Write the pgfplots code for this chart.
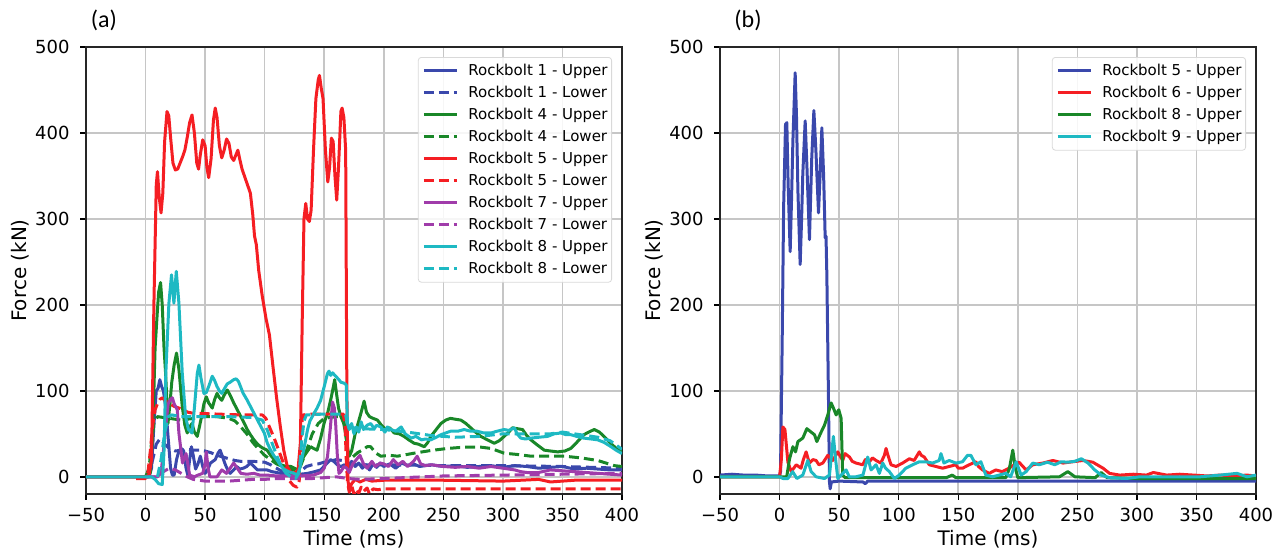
\documentclass[border=0pt]{standalone}
\usepackage{pgfplots}
\pgfplotsset{compat=1.18}
\usepackage{fontspec}
\setmainfont{DejaVu Sans}
\newfontfamily\calib{Carlito}
\definecolor{cBlue}{RGB}{58,72,172}
\definecolor{cRed}{RGB}{245,30,35}
\definecolor{cGreen}{RGB}{25,135,40}
\definecolor{cPurple}{RGB}{160,60,170}
\definecolor{cCyan}{RGB}{30,185,195}
\pgfplotsset{
  myax/.style={
    scale only axis, width=268pt, height=223.5pt,
    xmin=-50, xmax=400, ymin=-20, ymax=500,
    xtick={-50,0,50,100,150,200,250,300,350,400},
    xticklabels={−50,0,50,100,150,200,250,300,350,400},
    ytick={0,100,200,300,400,500},
    yticklabels={0,100,200,300,400,500},
    tick align=outside, major tick length=3pt,
    tick style={black, line width=0.7pt},
    xtick pos=bottom, ytick pos=left,
    axis line style={black!85, line width=0.8pt},
    grid=major, major grid style={gray!45, line width=0.8pt},
    tick label style={font=\fontsize{9}{10}\selectfont},
    xticklabel style={anchor=center, yshift=-7.5pt},
    yticklabel style={anchor=east, inner sep=0pt, xshift=-5pt},
    xlabel={Time (ms)}, ylabel={Force (kN)},
    label style={font=\fontsize{9}{10}\selectfont},
    every axis x label/.style={at={(axis description cs:0.5,0)}, anchor=center, yshift=-22.5pt},
    every axis y label/.style={at={(axis description cs:0,0.5)}, anchor=center, rotate=90, yshift=33pt},
    legend cell align=left,
    legend style={at={(1,1)}, anchor=north east, xshift=-5pt, yshift=-5pt,
      font=\fontsize{7.5}{9}\selectfont, draw=gray!30, rounded corners=1.5pt,
      fill=white, fill opacity=0.85, text opacity=1,
      nodes={inner sep=0pt, text height=5.8pt, text depth=1.6pt},
      row sep=3.6pt, column sep=5pt, inner xsep=2pt, inner ysep=3pt},
    legend image code/.code={\draw[#1] (0pt,0pt) -- (16.5pt,0pt);},
    every axis plot/.append style={line width=1.5pt, line join=round},
  },
  dsh/.style={dash pattern=on 5pt off 2.5pt},
}
\begin{document}
\begin{tikzpicture}
\useasboundingbox (0,0) rectangle (642pt,275.5pt);
\node[font=\calib\fontsize{12}{14}\selectfont] at (52pt,265.5pt) {(a)};
\node[font=\calib\fontsize{12}{14}\selectfont] at (374pt,265.5pt) {(b)};
% ---------------- panel (a)
\begin{axis}[myax, at={(43pt,28.5pt)}, anchor=south west]
% Rockbolt 1 Upper
\addplot[cBlue] coordinates {(-50,0) (3,0) (5,10) (7,60) (9,100) (10.5,103) (12,113) (13.5,105) (15,100) (17,80) (19,45) (21,10) (22.5,2) (24,2) (26,20) (28,30) (30,33) (32,30) (34,10) (35.5,2) (37,20) (38.5,35) (40,25) (42,9) (44,15) (46,24) (48,12) (50,4) (52,8) (54.5,16) (58.5,20) (61,28) (62.6,31) (65,22) (67,14) (69,8) (71,4) (74,8) (76.6,12) (79,9) (82,10) (85,12) (88,16) (91,12) (94,8) (98,8) (102,8) (106,6) (110,5) (113.6,4) (120,4) (124.6,4) (130,3) (136,4) (142,6) (147,8) (151,14) (155.4,20) (158,18) (161,14) (164,12) (167,14) (170,10) (173,18) (176,12) (179,16) (182,10) (185,14) (188,8) (191,15) (194,11) (197,16) (200,12) (205,15) (210,10) (215,16) (220,13) (225,15) (230,12) (240,14) (250,12) (260,13) (270,11) (280,12) (290,13) (300,11) (310,13) (320,12) (330,10) (340,11) (350,12) (360,9) (370,10) (380,9) (390,8) (400,8)};
\addlegendentry{Rockbolt 1 - Upper}
% Rockbolt 1 Lower
\addplot[cBlue, dsh] coordinates {(0,0) (3,5) (6,20) (9,38) (12,44) (14,42) (16,38) (20,33) (25,30) (30,31) (35,32) (40,31) (45,31) (50,30) (55,28) (60,25) (65,23) (70,21) (75,19) (80,18) (90,18) (100,17) (105,14) (110,10) (115,6) (120,5) (125,4) (130,6) (135,12) (140,14) (145,15) (150,17) (155,18) (160,20) (165,19) (170,16) (180,14) (200,14) (250,13) (300,13) (350,12) (400,10)};
\addlegendentry{Rockbolt 1 - Lower}
% Rockbolt 4 Upper
\addplot[cGreen] coordinates {(-50,0) (2,0) (4,5) (6,50) (8,150) (9.8,190) (11,215) (12.6,226) (14,200) (15.5,150) (16.8,121) (18.8,62) (20.5,85) (22,110) (24,130) (26,144) (28,125) (30.8,82) (33,60) (35,51) (37,58) (39,62) (41,52) (43.4,47) (45.5,60) (47.6,74) (49,85) (51,93) (53,86) (56,80) (58,90) (60,97) (62,92) (64,89) (66,95) (68.6,101) (71,95) (74,86) (77,78) (80,70) (83,62) (85.4,55) (88,49) (91,43) (94,38) (96.6,35) (99,33) (102,31) (105,25) (108,20) (111,17) (113.6,14) (118,12) (122,12) (125,10) (127.5,8) (130,15) (133,24) (136,30) (138.6,35) (141,33) (144,31) (147,45) (150,63) (153,75) (155.5,90) (157,100) (158.8,113) (160.5,95) (162,80) (164,70) (166.4,62) (168,50) (170,30) (171,24) (173,30) (176,50) (179,65) (181,75) (183.5,88) (185.5,75) (188,70) (191,68) (194.7,66) (198,60) (201.7,55) (205,57) (208.7,51) (213,50) (217,47) (221,43) (225.5,39) (229,38) (234,35) (237,40) (239.5,47) (244,55) (248,62) (252,66) (256,68) (260,67) (264.7,66) (269,62) (273,57) (277,52) (281.5,47) (287,43) (292.7,39) (297,42) (301,47) (305,52) (308,57) (312,56) (316.5,55) (320,48) (323.5,43) (328,38) (334.7,31) (340,30) (346,29) (352,30) (357,33) (362,40) (368,49) (372,52) (376.7,55) (381,52) (384.9,47) (389,41) (393.6,35) (397,31) (400,29)};
\addlegendentry{Rockbolt 4 - Upper}
% Rockbolt 4 Lower
\addplot[cGreen, dsh] coordinates {(0,0) (3,10) (5,40) (7,62) (10,70) (20,68) (30,66) (40,68) (50,70) (60,70) (70,68) (75,65) (80,58) (85,50) (90,40) (95,32) (100,25) (105,20) (110,15) (115,12) (120,9) (125,8) (130,12) (135,30) (140,50) (145,62) (150,68) (160,70) (166,70) (168,50) (170,28) (173,22) (178,28) (183,32) (186,35) (189,35) (193,28) (197.5,24) (205,25) (211.5,24) (225.5,27.5) (239.5,30.6) (253.5,33) (267.5,34.5) (281.5,34.5) (290,33) (301,27.5) (312,26) (323.5,24) (337.5,24) (351.5,24) (365.5,22) (379.6,19) (393.5,13) (400,12)};
\addlegendentry{Rockbolt 4 - Lower}
% Rockbolt 5 Upper
\addplot[cRed] coordinates {(-50,0) (0,0) (3,2) (5,20) (7,200) (9,340) (10,355) (11.5,325) (13,307) (14.5,330) (16,390) (18,425) (19.5,420) (21,395) (23,365) (25,357) (27,358) (29,365) (31,372) (33,380) (35,395) (37,412) (39,421) (41,400) (43,365) (44.5,358) (46,375) (48,392) (50,385) (51.5,360) (53,348) (55,370) (57,415) (58.5,429) (60,418) (62,385) (64,371) (66,380) (68,393) (70,388) (72,372) (74,368) (76,375) (77.5,380) (79,370) (81,358) (83,350) (86,338) (88,330) (90,305) (91.5,280) (93,270) (95,240) (98,210) (101,185) (104,165) (107,128) (110,92) (113,60) (116,31) (119,12) (122,5) (125,4) (128,8) (130,40) (131.5,180) (133,300) (134.5,318) (136,300) (137.5,297) (139,310) (141,380) (143,440) (145,462) (146,467) (147.5,452) (149,440) (151,380) (153,343) (154.5,360) (156,394) (157.5,390) (159,350) (160.5,322) (162,360) (164,425) (165,429) (166.5,418) (168,380) (169,100) (170,-5) (171,-15) (173,-8) (176,-3) (180,-6) (185,-3) (190,-5) (200,-4) (250,-4) (300,-5) (330,-3) (340,-6) (360,-4) (400,-4)};
\addlegendentry{Rockbolt 5 - Upper}
% Rockbolt 5 Lower
\addplot[cRed, dsh] coordinates {(-8,-2) (0,-2) (2,5) (4,30) (6,60) (8,78) (10,85) (12,90) (14,92) (17,88) (20,85) (24,82) (28,80) (32,77) (36,75) (40,74) (60,73) (80,72) (98,72) (101,68) (104,58) (108,45) (112,30) (116,15) (119,3) (121,-5) (124,-10) (127,-12) (129,-5) (130,20) (131,60) (132,72) (140,73) (150,73) (160,73) (166,73) (167.5,60) (168.5,20) (169.5,-5) (171,-18) (173,-10) (175,-20) (177,-14) (179,-19) (181,-12) (183,-17) (186,-13) (188,-20) (191,-14) (195,-15) (200,-14) (400,-14)};
\addlegendentry{Rockbolt 5 - Lower}
% Rockbolt 7 Upper
\addplot[cPurple] coordinates {(0,0) (10,0) (13,5) (15,30) (17,60) (19,85) (21,90) (22.5,92) (24,85) (26.6,78) (28,51) (31,16) (34,27) (37,2) (41,0) (44,2) (48,4) (50,15) (51,29) (52.5,10) (54,0) (60,0) (64,8) (68,4) (71,10) (74,16) (77,10) (80,4) (85,3) (91,4) (96,2) (102,2) (110,1) (120,1) (130,1) (141,2) (147,5) (150,10) (152.7,23) (155,55) (157,87) (158.5,80) (159.6,62) (161,25) (162.4,4) (164,6) (166.6,12) (169,10) (171,5) (174,15) (177,20) (180,25) (183,15) (186,10) (190,18) (193,12) (197,16) (200,15) (204,12) (208,20) (212,14) (216,18) (220,12) (225,18) (228,24) (231,15) (235,13) (240,14) (250,12) (260,11) (270,12) (280,10) (290,12) (300,10) (310,8) (315,6) (320,5) (330,5) (340,8) (350,7) (360,6) (370,5) (380,4) (390,3) (400,2)};
\addlegendentry{Rockbolt 7 - Upper}
% Rockbolt 7 Lower
\addplot[cPurple, dsh] coordinates {(0,0) (10,0) (15,6) (20,10) (25,8) (30,4) (35,0) (40,-3) (50,-5) (60,-5) (70,-5) (80,-4) (90,-3) (100,-3) (110,-2) (120,-2) (130,-2) (140,-2) (150,-1) (160,0) (170,-2) (180,-3) (200,-2) (250,1) (300,2) (350,3) (400,4)};
\addlegendentry{Rockbolt 7 - Lower}
% Rockbolt 8 Upper
\addplot[cCyan] coordinates {(-50,0) (5,0) (8,-3) (11,-8) (14,-9) (15.5,30) (17,120) (19.6,202) (21.8,235) (23.8,202) (25.8,239) (28,202) (30.8,121) (33.6,70) (36,55) (39,51) (41,80) (43.4,120) (44.8,130) (46.5,115) (49,97) (51,98) (53,105) (56,117) (58,112) (60,105) (62,100) (64,97) (66,102) (68.5,108) (71,110) (74,113) (76,114) (78,111) (80,104) (82,97) (85,90) (88,82) (91,74) (94,66) (97,58) (99.7,51) (102,40) (105,31) (108,24) (110.7,19) (113,14) (116,9) (120,6) (124.6,4) (127.5,2) (129.5,10) (131.7,24) (134,40) (136,55) (138,65) (141.5,74) (144,80) (147,89) (150,105) (152.7,120) (154,123) (155.4,118) (157,121) (159.6,117) (161,115) (162.4,113) (164,110) (166.6,109) (168.5,107) (169.5,62) (171,55) (173,62) (175,50) (177,58) (179,52) (181,64) (183,55) (186,60) (189,62) (192,56) (194,60) (197.5,58) (201,52) (203,58) (206,55) (210,53) (214.6,58) (218,50) (223,45) (227,47) (231.6,43) (235,44) (239.5,43) (244,46) (248,49) (252,51) (256,53) (262,53) (267.5,55) (273,53) (278.5,53) (284,51) (290,51) (295,53) (301,55) (305,54) (309.6,57) (312,50) (315,45) (319,44) (323.5,45) (330,46) (337.5,47) (343,50) (348.7,51) (353,49) (357,49) (362,47) (368,45) (374,44) (379.6,43) (385,40) (390.8,35) (395,31) (400,27)};
\addlegendentry{Rockbolt 8 - Upper}
% Rockbolt 8 Lower
\addplot[cCyan, dsh] coordinates {(10,0) (13,20) (16,50) (19,70) (22,72) (30,70) (50,70) (70,70) (90,69) (98,66) (102,55) (106,40) (110,25) (114,12) (118,4) (122,0) (126,-2) (129,5) (131,40) (133,65) (135,72) (150,73) (165,73) (168,72) (170,58) (180,56) (200,55) (220,52) (240,48) (260,46) (280,47) (300,50) (320,50) (340,50) (350,52) (360,50) (380,46) (390,42) (400,32)};
\addlegendentry{Rockbolt 8 - Lower}
\end{axis}
% ---------------- panel (b)
\begin{axis}[myax, at={(360pt,28.5pt)}, anchor=south west]
% Rockbolt 5 Upper
\addplot[cBlue] coordinates {(-50,2) (-40,3) (-30,2) (-20,2) (-10,1) (0,1) (0.8,6) (2.2,158) (3.4,313) (5,410) (6.1,412) (7.2,340) (8.9,262) (10,320) (11.2,391) (13.1,470) (14.2,420) (15.4,333) (17.3,247) (18.5,300) (19.5,352) (21.5,414) (23,360) (25.1,276) (27,370) (28.8,426) (30.5,380) (32.7,307) (34,350) (35.5,406) (37,350) (38.3,278) (39,280) (39.7,235) (41,99) (41.9,-6) (42.5,-14) (43.5,-6) (50,-5) (70,-6) (72,-8) (74,-5) (100,-5) (150,-5) (200,-5) (250,-5) (300,-5) (350,-5) (400,-5)};
\addlegendentry{Rockbolt 5 - Upper}
% Rockbolt 6 Upper
\addplot[cRed] coordinates {(-50,0) (0,0) (1.5,20) (2.8,58) (4.5,55) (7,17) (9.8,6) (14,14) (18,10) (20,20) (22.3,29) (25,16) (28,20) (30.7,19) (33,14) (36.3,16) (40.5,25) (44.7,19) (48.9,29) (53,19) (55,27) (58.7,23) (61,18) (64.2,16) (69.8,14) (72,20) (75.4,17.5) (78,22) (81,19) (85,16) (88,25) (89.4,33) (91,25) (93.6,14) (97.8,12) (103.3,16) (109,21) (113,19) (117.3,29) (119,25) (121.5,23) (125.7,14) (131.3,12) (136.9,10) (142.4,12) (148,14) (150,10) (153.6,10) (159.2,14) (164.8,17.5) (167,12) (170.4,8) (176,4) (181.5,8) (187,6) (192.7,10) (197,14) (201,17) (207,8) (212.6,14) (221,16) (229.5,19) (238,16) (246,17.5) (254.8,19) (263,17) (271.6,10) (277,4) (285.7,2) (297,3) (308,2) (313.8,5) (325,2) (336,3) (347.5,2) (358.7,1) (370,2) (381,1) (392.4,2) (400,1)};
\addlegendentry{Rockbolt 6 - Upper}
% Rockbolt 8 Upper
\addplot[cGreen] coordinates {(-50,0) (0,0) (6,0) (8.4,21) (11.2,35) (13.4,29) (15.4,41) (19.5,45) (22.9,56) (26.5,52) (29.3,49) (31.3,41) (34.9,52) (37.7,60) (40.5,72) (43.3,86) (45.2,80) (47.5,72) (49.7,78) (51.7,68) (53,2) (55,-1) (100,-1) (140,-1) (145,2) (148,-1) (190,-1) (193,10) (195.8,31) (198,10) (200,-1) (235,0) (242,6) (248,0) (265,-1) (270,5) (275,-1) (300,-2) (400,-2)};
\addlegendentry{Rockbolt 8 - Upper}
% Rockbolt 9 Upper
\addplot[cCyan] coordinates {(-50,0) (0,0) (3,-2) (7,-2) (9,2) (11,6) (14.5,-2) (19.5,2) (23.7,19) (26.5,6) (30.7,0) (37.7,-2) (41.9,2) (45.2,47) (47,21) (48.9,-2) (51.7,2) (55.9,8) (58.5,0) (64,0) (70,2) (74,23) (76.8,8) (81,14) (83.8,4) (86.6,16) (89,10) (92.2,6) (96.4,-2) (100.5,2) (106,10) (111.7,14) (117.3,17.5) (123,17.5) (128.5,16) (134,19) (135.5,27) (138,16) (142.4,19) (148,16) (153.6,17.5) (157.8,25) (160.6,25) (164.8,14) (169,17.5) (173.2,2) (178.8,0) (184.3,2) (190,4) (194,0) (198.6,17.5) (202.8,2) (207,6) (212.6,16) (218,14) (225,17) (231,14) (236.5,17.5) (242,17) (247.8,18) (253.4,21) (259,16) (264.6,8) (270,2) (277,-1) (291,-2) (302.5,0) (319,0) (336,0) (353,0) (370,2) (384,4) (392.4,0) (400,2)};
\addlegendentry{Rockbolt 9 - Upper}
\end{axis}
\end{tikzpicture}
\end{document}
